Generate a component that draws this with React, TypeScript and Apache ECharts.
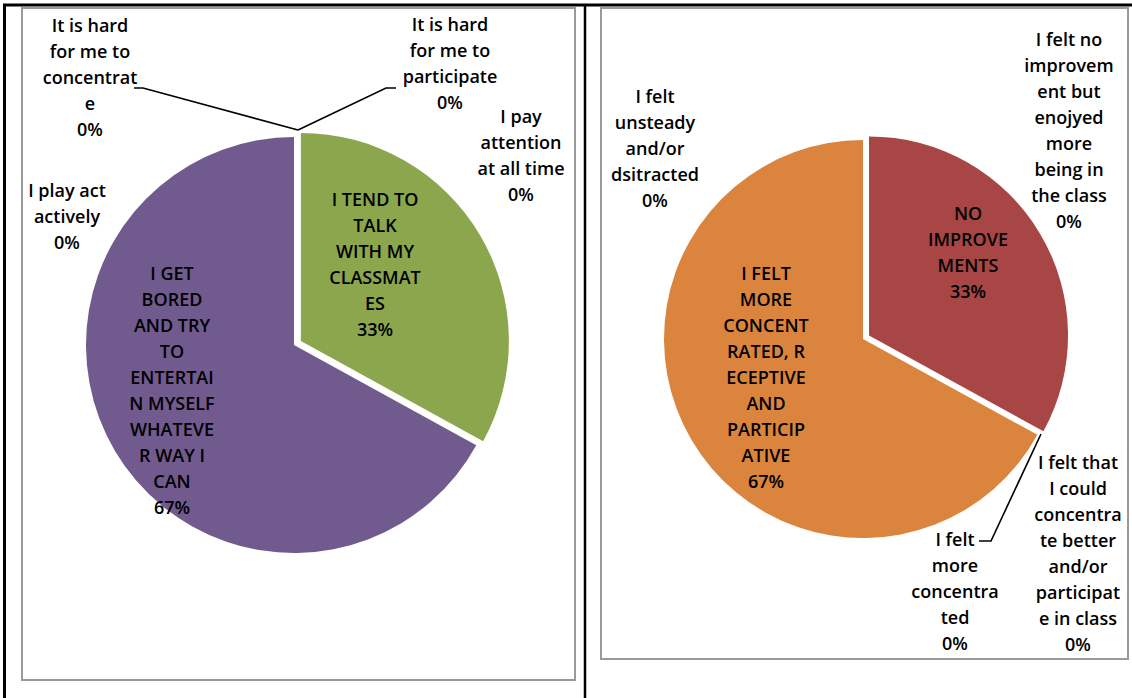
import React, { useEffect, useRef } from "react";
import * as echarts from "echarts";

// ---- Left chart data ----
const leftNames = [
  "I TEND TO TALK WITH MY CLASSMATES",
  "I GET BORED AND TRY TO ENTERTAIN MYSELF WHATEVER WAY I CAN",
  "I play act actively",
  "It is hard for me to concentrate",
  "It is hard for me to participate",
  "I pay attention at all time",
];
const leftLabels = [
  "I TEND TO\nTALK\nWITH MY\nCLASSMAT\nES",
  "I GET\nBORED\nAND TRY\nTO\nENTERTAI\nN MYSELF\nWHATEVE\nR WAY I\nCAN",
  "I play act\nactively",
  "It is hard\nfor me to\nconcentrat\ne",
  "It is hard\nfor me to\nparticipate",
  "I pay\nattention\nat all time",
];
const leftValues = [33, 67, 0, 0, 0, 0];
const leftColors = ["#8BA64C", "#705A8E", "#705A8E", "#705A8E", "#705A8E", "#705A8E"];

// ---- Right chart data ----
const rightNames = [
  "NO IMPROVEMENTS",
  "I felt that I could concentrate better and/or participate in class",
  "I felt more concentrated",
  "I FELT MORE CONCENTRATED, RECEPTIVE AND PARTICIPATIVE",
  "I felt unsteady and/or dsitracted",
  "I felt no improvement but enojyed more being in the class",
];
const rightLabels = [
  "NO\nIMPROVE\nMENTS",
  "I felt that\nI could\nconcentra\nte better\nand/or\nparticipat\ne in class",
  "I felt\nmore\nconcentra\nted",
  "I FELT\nMORE\nCONCENT\nRATED, R\nECEPTIVE\nAND\nPARTICIP\nATIVE",
  "I felt\nunsteady\nand/or\ndsitracted",
  "I felt no\nimprovem\nent but\nenojyed\nmore\nbeing in\nthe class",
];
const rightValues = [33, 0, 0, 67, 0, 0];
const rightColors = ["#A84545", "#DB843D", "#DB843D", "#DB843D", "#DB843D", "#DB843D"];

// ---- Layout (label anchors and leader lines, in pixels) ----
const leftLabelPos: [number, number][] = [
  [375, 264],
  [172, 390],
  [67, 216],
  [90, 77],
  [450, 63],
  [521, 155],
];
const leftLeaders: ([number, number][] | null)[] = [
  null,
  null,
  null,
  [[134, 88], [143, 88], [298, 130]],
  [[396, 88], [386, 88], [298, 130]],
  null,
];
const rightLabelPos: [number, number][] = [
  [968, 252],
  [1078, 553],
  [955, 591],
  [766, 377],
  [655, 148],
  [1069, 130],
];
const rightLeaders: ([number, number][] | null)[] = [
  null,
  null,
  [[979, 541], [991, 541], [1041, 434]],
  null,
  null,
  null,
];

const FONT = "'Open Sans', sans-serif";

function makeSeries(
  names: string[],
  labels: string[],
  values: number[],
  colors: string[],
  center: [number, number],
  radius: number,
  offset: number,
  explodeIndex: number,
  labelPos: [number, number][],
  leaders: ([number, number][] | null)[]
) {
  // base pie (all slices except the exploded one) carrying all labels
  const base = {
    type: "pie",
    center,
    radius,
    startAngle: 90,
    clockwise: true,
    avoidLabelOverlap: false,
    silent: true,
    z: 2,
    label: {
      show: true,
      fontFamily: FONT,
      fontSize: 18,
      fontWeight: 600,
      lineHeight: 26,
      color: "#000",
      align: "center",
      formatter: (p: any) => `${labels[p.dataIndex]}\n${Math.round(p.percent)}%`,
    },
    labelLine: {
      show: false,
      smooth: false,
      lineStyle: { color: "#000", width: 1.6 },
    },
    data: names.map((n, i) => ({
      name: n,
      value: values[i],
      itemStyle: { color: i === explodeIndex ? "rgba(0,0,0,0)" : colors[i] },
      label: { position: values[i] > 0 ? "inside" : "outside" },
      labelLine: { show: !!leaders[i] },
    })),
    labelLayout: (p: any) => {
      const pos = labelPos[p.dataIndex];
      const r: any = { x: pos[0], y: pos[1], align: "center", verticalAlign: "middle" };
      if (leaders[p.dataIndex]) r.labelLinePoints = leaders[p.dataIndex];
      return r;
    },
  };
  // exploded slice: same pie, moved outward along its bisector
  const total = values.reduce((a, b) => a + b, 0);
  const before = values.slice(0, explodeIndex).reduce((a, b) => a + b, 0);
  const mid = ((before + values[explodeIndex] / 2) / total) * Math.PI * 2;
  const exploded = {
    type: "pie",
    center: [center[0] + offset * Math.sin(mid), center[1] - offset * Math.cos(mid)],
    radius,
    startAngle: 90,
    clockwise: true,
    silent: true,
    z: 1,
    label: { show: false },
    labelLine: { show: false },
    data: names.map((n, i) => ({
      name: n,
      value: values[i],
      itemStyle: { color: i === explodeIndex ? colors[i] : "rgba(0,0,0,0)" },
    })),
  };
  return [exploded, base];
}

export default function App() {
  const ref = useRef<HTMLDivElement>(null);
  useEffect(() => {
    if (!ref.current) return;
    const chart = echarts.init(ref.current, null, { renderer: "svg" });
    chart.setOption({
      animation: false,
      backgroundColor: "#fff",
      graphic: [
        { type: "rect", z: 0, shape: { x: 22, y: 8, width: 553, height: 672 }, style: { fill: "none", stroke: "#9A9A9A", lineWidth: 2 } },
        { type: "rect", z: 0, shape: { x: 601, y: 8, width: 527, height: 651 }, style: { fill: "none", stroke: "#9A9A9A", lineWidth: 2 } },
        { type: "line", z: 10, shape: { x1: 3, y1: 5, x2: 1132, y2: 5 }, style: { stroke: "#000", lineWidth: 3 } },
        { type: "line", z: 10, shape: { x1: 4.5, y1: 4, x2: 4.5, y2: 698 }, style: { stroke: "#000", lineWidth: 3 } },
        { type: "line", z: 10, shape: { x1: 585, y1: 4, x2: 585, y2: 698 }, style: { stroke: "#000", lineWidth: 2.5 } },
      ],
      series: [
        ...makeSeries(leftNames, leftLabels, leftValues, leftColors, [294, 345], 208, 8, 0, leftLabelPos, leftLeaders),
        ...makeSeries(rightNames, rightLabels, rightValues, rightColors, [863, 339], 199, 7, 0, rightLabelPos, rightLeaders),
      ],
    });
    return () => chart.dispose();
  }, []);
  return (
    <div
      ref={ref}
      style={{ position: "fixed", left: 0, top: 0, width: 1132, height: 698, background: "#fff" }}
    />
  );
}
